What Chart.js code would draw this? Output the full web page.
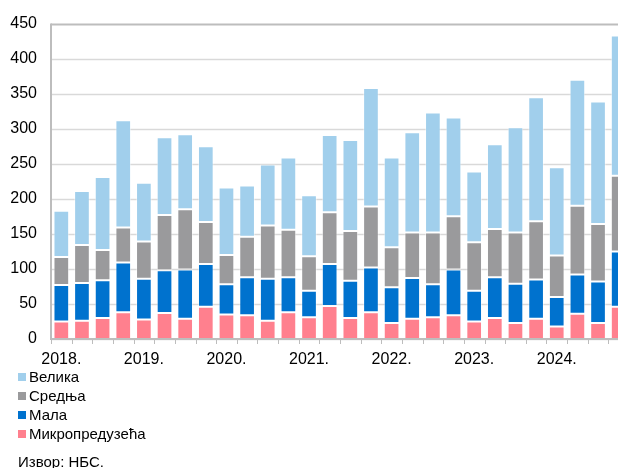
<!DOCTYPE html>
<html>
<head>
<meta charset="utf-8">
<script src="https://cdn.jsdelivr.net/npm/chart.js@4.4.1/dist/chart.umd.min.js"></script>
<style>
  html, body { margin: 0; padding: 0; background: #fff; overflow: hidden; }
  #wrap { position: relative; width: 618px; height: 468px; overflow: hidden; }
  #chart-box { position: absolute; left: 0; top: 0; width: 640px; height: 370px; }
  #legend { position: absolute; left: 18px; top: 367px; font-family: 'Liberation Sans', Arial, sans-serif; font-size: 15px; color: #000; }
  .item { height: 19px; line-height: 19px; display: flex; align-items: center; }
  .box { width: 8px; height: 8px; margin-right: 3px; }
  #source { position: absolute; left: 18px; top: 453px; font-family: 'Liberation Sans', Arial, sans-serif; font-size: 15px; color: #000; }
</style>
</head>
<body>
<div id="wrap">
  <div id="chart-box"><canvas id="chart" width="640" height="370"></canvas></div>
  <div id="legend"></div>
  <div id="source">Извор: НБС.</div>
</div>
<script>
// Quarters 2018 Q1 - 2024 Q4
const years = ['2018', '2019', '2020', '2021', '2022', '2023', '2024'];
const quarters = [];
years.forEach(y => { for (let q = 1; q <= 4; q++) quarters.push(y + ' Q' + q); });

// Series values (stacked, bottom to top)
const micro = [25, 26, 30, 38, 28, 37, 29, 46, 35, 34, 26, 38, 31, 47, 30, 38, 23, 29, 31, 34, 25, 30, 23, 29, 18, 36, 23, 46];
const small = [52, 54, 54, 71, 58, 61, 70, 61, 43, 54, 60, 50, 38, 60, 53, 64, 51, 58, 47, 65, 44, 58, 56, 56, 42, 56, 59, 79];
const medium = [40, 54, 43, 50, 53, 79, 86, 60, 42, 58, 76, 68, 49, 74, 71, 87, 57, 65, 74, 76, 69, 69, 73, 83, 59, 98, 82, 108];
const large = [66, 77, 104, 153, 84, 111, 107, 108, 96, 73, 87, 103, 87, 110, 130, 169, 128, 143, 171, 141, 101, 121, 150, 177, 126, 180, 175, 200];

// Y axis: 0 to 450 in steps of 50
const yMin = 0;
const yMax = 450;
const yStep = 50;

const series = [
    { label: 'Микропредузећа', data: micro, color: '#FF808E' },
    { label: 'Мала', data: small, color: '#0072CE' },
    { label: 'Средња', data: medium, color: '#9A9A9C' },
    { label: 'Велика', data: large, color: '#A1CFEC' }
];

const font = { family: "'Liberation Sans', Arial, sans-serif", size: 16 };

// Gridlines, axis lines and tick marks, placed with the chart's own scales
const axisLines = {
    id: 'axisLines',
    beforeDatasetsDraw(chart) {
        const { ctx, chartArea: a, scales: { x, y } } = chart;
        ctx.save();
        y.ticks.forEach(t => {
            const py = Math.round(y.getPixelForValue(t.value)) + 0.5;
            const top = t.value === yMax;
            ctx.strokeStyle = top ? '#BDBDBD' : '#D9D9D9';
            ctx.lineWidth = top ? 2 : 1.5;
            ctx.beginPath();
            ctx.moveTo(a.left, py);
            ctx.lineTo(a.right, py);
            ctx.stroke();
        });
        // tick marks between categories
        const step = x.getPixelForValue(1) - x.getPixelForValue(0);
        ctx.strokeStyle = '#BDBDBD';
        ctx.lineWidth = 1;
        for (let i = 0; i <= quarters.length; i++) {
            const px = Math.round(x.getPixelForValue(i) - step / 2) + 0.5;
            ctx.beginPath();
            ctx.moveTo(px, a.bottom);
            ctx.lineTo(px, a.bottom + 5);
            ctx.stroke();
        }
        ctx.restore();
    },
    afterDatasetsDraw(chart) {
        const { ctx, chartArea: a } = chart;
        ctx.save();
        ctx.strokeStyle = '#BDBDBD';
        ctx.lineWidth = 2;
        ctx.beginPath();
        ctx.moveTo(a.left, a.top);
        ctx.lineTo(a.left, a.bottom);
        ctx.lineTo(a.right, a.bottom);
        ctx.stroke();
        ctx.restore();
    }
};

new Chart(document.getElementById('chart'), {
    type: 'bar',
    data: {
        labels: quarters,
        datasets: series.map(s => ({
            label: s.label,
            data: s.data,
            backgroundColor: s.color,
            borderColor: 'rgba(255,255,255,0.45)',
            borderWidth: 1,
            borderSkipped: false,
            categoryPercentage: 1,
            barPercentage: 0.76
        }))
    },
    options: {
        responsive: false,
        animation: false,
        layout: { padding: { top: 19, left: 0, right: 11, bottom: 0 } },
        plugins: { legend: { display: false }, tooltip: { enabled: false } },
        scales: {
            x: {
                stacked: true,
                offset: true,
                afterFit: scale => { scale.height = 31; },
                grid: { display: false, drawTicks: true, tickLength: 5 },
                border: { display: false },
                ticks: {
                    autoSkip: false,
                    maxRotation: 0,
                    padding: 6,
                    color: '#000',
                    font: font,
                    callback: (v, i) => i % 4 === 0 ? quarters[i].slice(0, 4) + '.' : ''
                }
            },
            y: {
                stacked: true,
                min: yMin,
                max: yMax,
                afterFit: scale => { scale.width = 51; },
                grid: { display: false, drawTicks: false },
                border: { display: false },
                ticks: { stepSize: yStep, padding: 14, color: '#000', font: font }
            }
        }
    },
    plugins: [axisLines]
});

// Legend, top to bottom
const legend = document.getElementById('legend');
series.slice().reverse().forEach(s => {
    const item = document.createElement('div');
    item.className = 'item';
    item.innerHTML = '<span class="box" style="background:' + s.color + '"></span>' + s.label;
    legend.appendChild(item);
});
</script>
</body>
</html>
